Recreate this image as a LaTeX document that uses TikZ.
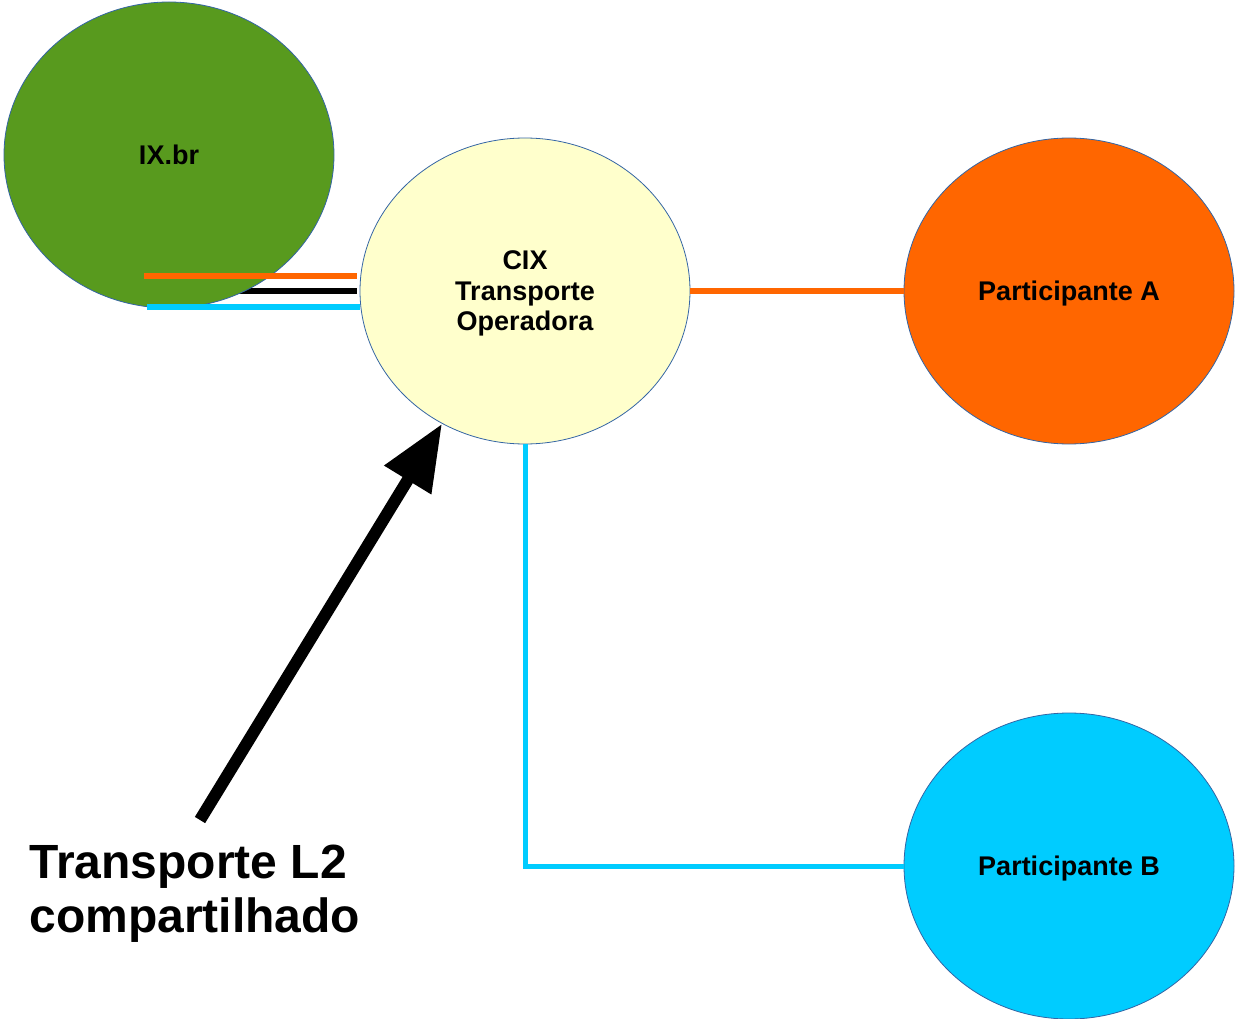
\documentclass[tikz,border=0pt]{standalone}
\usepackage{fontspec}
\setmainfont{Liberation Sans}
\usetikzlibrary{shapes.geometric,arrows.meta}
\definecolor{ixgreen}{HTML}{589A1E}
\definecolor{cixyellow}{HTML}{FFFFCC}
\definecolor{partorange}{HTML}{FF6600}
\definecolor{partcyan}{HTML}{00CCFF}
\definecolor{rimblue}{HTML}{3465A4}
\begin{document}
\begin{tikzpicture}[
            x=1pt, y=-1pt,
            site/.style={ellipse, draw=rimblue, line width=0.8pt, inner sep=0pt,
                minimum width=330pt, minimum height=306pt, align=center, text depth=0pt,
                font=\bfseries\fontsize{27}{30.5}\selectfont},
            link/.style={line width=6pt},
            pointer/.style={line width=12pt, -{Triangle[length=66pt, width=52pt]}}
        ]
            \useasboundingbox (0,0) rectangle (1235,1019);
            % black link sits behind IX.br
            \coordinate (kx) at (169,291);
            \coordinate (ko) at (357,291);
            \draw[link] (kx) -- (ko);
            \node[site, fill=ixgreen] (ix) at (169,155) {IX.br};
            \node[site, fill=cixyellow] (cix) at (525,291) {CIX\\Transporte\\Operadora};
            \node[site, fill=partorange] (pa) at (1069,291) {Participante A};
            \node[site, fill=partcyan] (pb) at (1069,866) {Participante B};
            % links from IX.br
            \coordinate (ox) at (144,276);
            \coordinate (oc) at (357,276);
            \coordinate (cx) at (147,307);
            \coordinate (cc) at (360,307);
            \draw[link, partorange] (ox) -- (oc);
            \draw[link, partcyan] (cx) -- (cc);
            % links to participants
            \draw[link, partorange] (cix.east) -- (pa.west);
            \draw[link, partcyan, line width=5pt] (cix.south) |- (pb.west);
            % shared transport
            \node[anchor=west, align=left, font=\bfseries\fontsize{48}{54}\selectfont]
                (l2) at (26,894) {Transporte L2\\compartilhado};
            \coordinate (tail) at (200,820);
            \draw[pointer] (tail) -- (cix.238);
        \end{tikzpicture}
\end{document}
